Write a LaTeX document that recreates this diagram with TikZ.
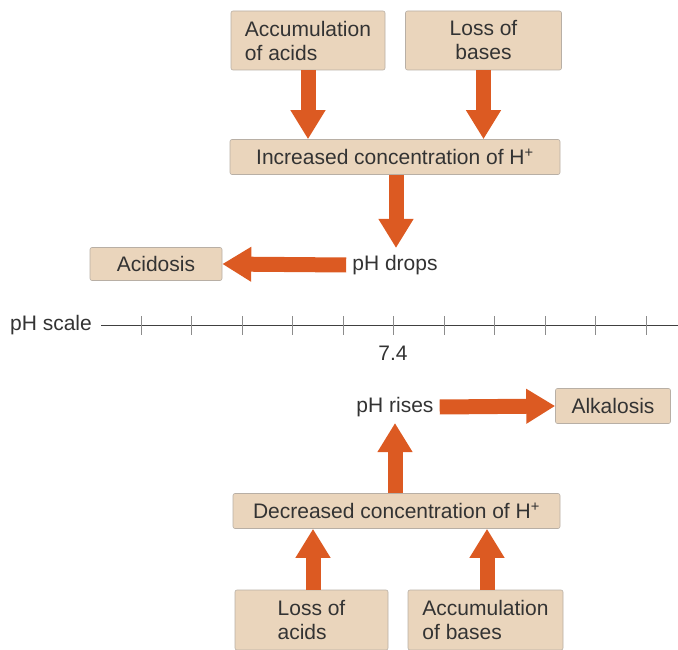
\documentclass[tikz,border=0pt]{standalone}
\usepackage{fontspec}
\setmainfont{Liberation Sans}
\usetikzlibrary{arrows.meta}
\definecolor{boxfill}{HTML}{EAD5BC}
\definecolor{boxline}{HTML}{B8AFA5}
\definecolor{arr}{HTML}{DC5A22}
\definecolor{txt}{HTML}{333333}
\tikzset{
  box/.style={draw=boxline, line width=0.6pt, fill=boxfill, rounded corners=2pt,
    inner sep=0pt, text=txt, font=\fontsize{21}{24}\selectfont},
  lab/.style={inner sep=0pt, text=txt, font=\fontsize{21}{24}\selectfont},
  bigarrow/.style={draw=arr, line width=15pt, -{Triangle[width=33pt,length=29pt]}, shorten >=0pt},
  tick/.style={draw=black!45, line width=0.8pt},
}
\begin{document}
\begin{tikzpicture}[x=1pt,y=-1pt]
\useasboundingbox (0,0) rectangle (678,650);
% top boxes
\node[box, minimum width=154pt, minimum height=59pt, align=left] (acc) at (308,40.5) {Accumulation\\of acids};
\node[box, minimum width=156pt, minimum height=59pt, align=center] (lossb) at (483.5,40.5) {Loss of\\bases};
\node[box, minimum width=330pt, minimum height=35pt] (inc) at (395,157) {Increased concentration of H\textsuperscript{+}};
\draw[bigarrow] (acc.south) -- (acc.south |- inc.north);
\draw[bigarrow] (lossb.south) -- (lossb.south |- inc.north);
% pH drops
\node[lab] (drops) at (395,265) {pH drops};
\coordinate (dropstop) at (396,248);
\draw[bigarrow] (inc.south -| dropstop) -- (dropstop);
\node[box, minimum width=132pt, minimum height=33pt] (acid) at (156,264) {Acidosis};
\draw[bigarrow] (drops.west) ++(-6,0) coordinate (dw) (dw) -- (acid.east);
% pH scale
\node[lab, anchor=east] (scale) at (92,325) {pH scale};
\coordinate (axend) at (678,325);
\draw[black!75, line width=0.8pt] (scale.east) ++(9,0) coordinate (axstart) (axstart) -- (axend);
\foreach \i in {0,...,10} {
  \draw[tick] (141+50.5*\i,316) -- (141+50.5*\i,335);
}
\node[lab] (ph74) at (393,353) {7.4};
% pH rises
\node[lab] (rises) at (395,407) {pH rises};
\node[box, minimum width=115pt, minimum height=35pt] (alk) at (613,406) {Alkalosis};
\draw[bigarrow] (rises.east) ++(6,0) coordinate (re) (re) -- (alk.west);
\node[box, minimum width=327pt, minimum height=35pt] (dec) at (396.5,511) {Decreased concentration of H\textsuperscript{+}};
\coordinate (risesbot) at (395,423);
\draw[bigarrow] (dec.north -| risesbot) -- (risesbot);
% bottom boxes
\node[box, minimum width=153pt, minimum height=60pt, align=left] (lossa) at (311.5,620) {Loss of\\acids};
\node[box, minimum width=155pt, minimum height=60pt, align=left] (accb) at (485.5,620) {Accumulation\\of bases};
\draw[bigarrow] (lossa.north -| 313,0) -- (313,0 |- dec.south);
\draw[bigarrow] (accb.north -| 487,0) -- (487,0 |- dec.south);
\end{tikzpicture}
\end{document}
